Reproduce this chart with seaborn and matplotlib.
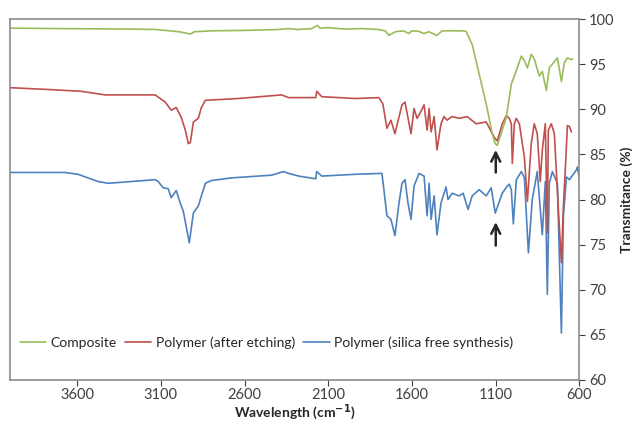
import matplotlib
matplotlib.use("Agg")
import matplotlib.pyplot as plt
import pandas as pd
import seaborn as sns

# -- Spectra (wavenumber cm-1, transmittance %) ---
composite_wn = [4000, 3700, 3300, 3130, 2990, 2924, 2900, 2800, 2600, 2400,
                2340, 2280, 2200, 2175, 2165, 2150, 2100, 2000, 1900, 1800,
                1760, 1738, 1700, 1650, 1620, 1600, 1560, 1530, 1500, 1451,
                1420, 1300, 1277, 1241, 1199, 1157, 1121, 1103, 1091, 1061,
                1037, 1007, 977, 947, 929, 911, 888, 870, 840, 822,
                798, 780, 750, 732, 708, 690, 672, 648, 642]
composite_t = [99.0, 98.95, 98.9, 98.85, 98.6, 98.35, 98.6, 98.7, 98.75, 98.85,
               98.95, 98.85, 98.95, 99.2, 99.3, 99.0, 99.05, 98.9, 98.95, 98.85,
               98.7, 98.2, 98.6, 98.7, 98.4, 98.7, 98.65, 98.4, 98.6, 98.2,
               98.7, 98.7, 98.65, 97.2, 93.9, 90.6, 87.3, 86.2, 86.0, 87.7,
               89.1, 92.8, 94.3, 95.9, 95.4, 94.6, 96.1, 95.6, 93.7, 94.2,
               92.1, 94.6, 95.3, 95.7, 93.1, 95.2, 95.7, 95.5, 95.6]

etched_wn = [4000, 3775, 3577, 3433, 3134, 3104, 3074, 3038, 3008, 2978,
             2954, 2936, 2924, 2906, 2876, 2858, 2834, 2637, 2379, 2337,
             2175, 2169, 2139, 1936, 1798, 1774, 1750, 1726, 1702, 1660,
             1642, 1606, 1588, 1570, 1546, 1528, 1510, 1498, 1486, 1468,
             1451, 1427, 1409, 1391, 1361, 1319, 1271, 1217, 1157, 1109,
             1091, 1061, 1037, 1019, 1007, 1001, 989, 977, 959, 929,
             911, 888, 870, 852, 834, 822, 804, 792, 786, 768,
             750, 726, 708, 696, 684, 672, 660, 648]
etched_t = [92.4, 92.2, 92.0, 91.6, 91.6, 91.2, 90.8, 89.9, 90.2, 89.1,
            87.7, 86.2, 86.3, 88.6, 89.0, 90.2, 91.0, 91.2, 91.6, 91.3,
            91.3, 92.0, 91.4, 91.2, 91.3, 90.6, 87.9, 88.8, 87.3, 90.5,
            90.8, 87.3, 90.1, 89.0, 89.8, 90.5, 87.7, 90.1, 87.5, 89.2,
            85.5, 88.4, 89.2, 88.8, 89.2, 89.0, 89.2, 88.4, 88.6, 86.9,
            86.5, 88.4, 89.3, 89.0, 88.4, 84.0, 88.4, 89.0, 88.4, 84.7,
            79.8, 86.2, 88.4, 87.3, 82.0, 85.5, 88.4, 76.3, 87.7, 88.4,
            87.3, 78.9, 73.0, 79.3, 83.6, 88.2, 88.1, 87.5]

silica_free_wn = [4000, 3673, 3595, 3475, 3415, 3134, 3116, 3086, 3056, 3038,
                  3008, 2984, 2966, 2930, 2906, 2876, 2858, 2834, 2800, 2679,
                  2439, 2367, 2337, 2277, 2175, 2169, 2139, 1936, 1780, 1768,
                  1750, 1726, 1702, 1678, 1660, 1642, 1624, 1606, 1588, 1558,
                  1528, 1510, 1498, 1486, 1468, 1451, 1427, 1397, 1385, 1361,
                  1319, 1295, 1265, 1241, 1199, 1157, 1127, 1103, 1061, 1031,
                  1019, 1007, 995, 977, 947, 929, 905, 882, 852, 834,
                  822, 804, 792, 780, 762, 732, 708, 696, 678, 660,
                  618, 612, 600]
silica_free_t = [83.0, 83.0, 82.8, 82.0, 81.8, 82.2, 82.0, 81.3, 81.2, 80.2,
                 81.0, 79.6, 78.7, 75.2, 78.5, 79.3, 80.4, 81.8, 82.1, 82.4,
                 82.7, 83.1, 82.9, 82.6, 82.3, 83.1, 82.6, 82.8, 82.9, 81.1,
                 78.2, 77.8, 76.0, 79.6, 81.8, 82.2, 79.6, 77.8, 81.5, 82.9,
                 82.6, 78.2, 81.8, 77.8, 80.4, 76.1, 79.6, 81.4, 80.0, 80.7,
                 80.4, 80.7, 78.9, 80.4, 81.1, 80.4, 81.3, 78.5, 80.7, 81.5,
                 81.7, 81.1, 77.3, 82.2, 83.1, 82.4, 74.1, 80.0, 83.1, 78.9,
                 76.1, 82.0, 69.5, 81.8, 83.1, 81.8, 65.2, 78.2, 82.5, 82.2,
                 83.3, 83.6, 82.2]

series_names = ["Composite", "Polymer (after etching)", "Polymer (silica free synthesis)"]
series_colors = ["#9BBB59", "#C0504D", "#4F81BD"]
x_ticks = [3600, 3100, 2600, 2100, 1600, 1100, 600]
y_ticks = [60, 65, 70, 75, 80, 85, 90, 95, 100]
arrow_wn = 1100

frames = [
    pd.DataFrame({"wn": composite_wn, "t": composite_t}),
    pd.DataFrame({"wn": etched_wn, "t": etched_t}),
    pd.DataFrame({"wn": silica_free_wn, "t": silica_free_t}),
]

sns.set_style("white")
plt.rcParams["font.family"] = ["Lato", "DejaVu Sans"]

fig = plt.figure(figsize=(6.34, 4.25), dpi=100)
ax = fig.add_axes([0.016, 0.106, 0.898, 0.849])

# draw blue first so red and green sit on top, like the original
for i in [2, 1, 0]:
    sns.lineplot(data=frames[i], x="wn", y="t", ax=ax, color=series_colors[i],
                 linewidth=1.2, estimator=None, sort=False, label=series_names[i])

ax.set_xlim(4000, 600)
ax.set_ylim(60, 100)
ax.set_xticks(x_ticks)
ax.set_yticks(y_ticks)
ax.yaxis.tick_right()
ax.yaxis.set_label_position("right")
ax.tick_params(axis="both", labelsize=10.5, colors="#404040", length=4,
               direction="out", width=0.8, pad=3)
ax.tick_params(axis="x", bottom=True, pad=2)
ax.tick_params(axis="y", right=True, left=False)
for s in ax.spines.values():
    s.set_color("#8c8c8c")
    s.set_linewidth(1.2)

ax.set_xlabel(r"Wavelength (cm$^{\mathbf{-1}}$)", fontsize=10, fontweight="bold",
              labelpad=0)
ax.set_ylabel("Transmitance (%)", fontsize=10, fontweight="bold", labelpad=4)

# arrows marking the 1100 band
arrow_kw = dict(arrowstyle="->", color="#262626", lw=1.8, mutation_scale=16,
                shrinkA=0, shrinkB=0)
ax.annotate("", xy=(arrow_wn, 85.5), xytext=(arrow_wn, 83.0), arrowprops=arrow_kw)
ax.annotate("", xy=(arrow_wn, 77.5), xytext=(arrow_wn, 74.9), arrowprops=arrow_kw)

handles, labels = ax.get_legend_handles_labels()
order = [labels.index(n) for n in series_names]
ax.legend([handles[k] for k in order], [labels[k] for k in order],
          loc="lower left", bbox_to_anchor=(0.0, 0.06), ncol=3, frameon=False,
          fontsize=10, handlelength=1.9, handletextpad=0.3, columnspacing=0.6,
          borderaxespad=0.3)

plt.savefig("out.png", dpi=100)
plt.close()
